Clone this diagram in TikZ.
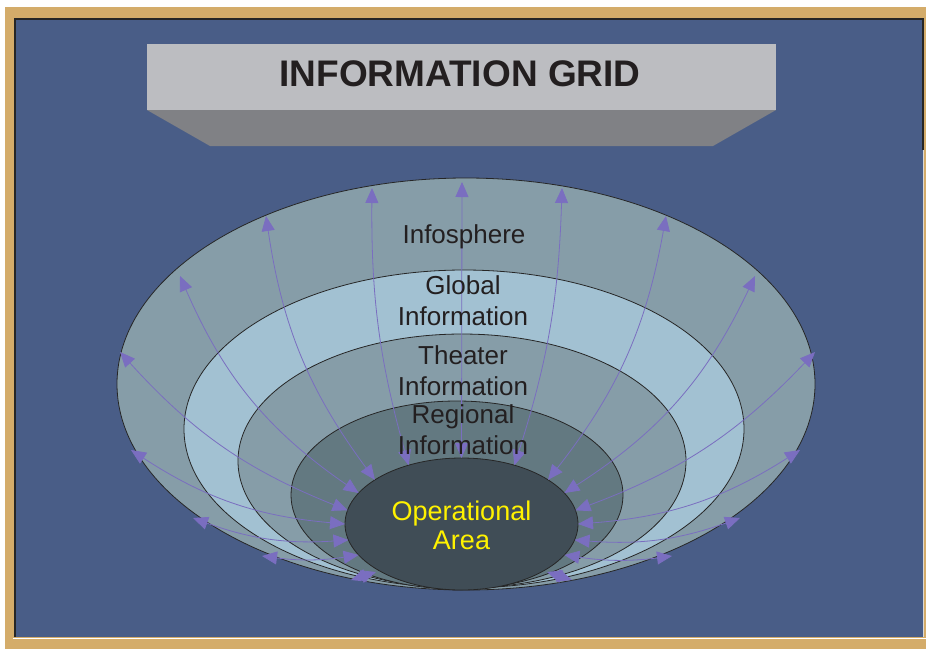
\documentclass[tikz,border=0pt]{standalone}
\usepackage{fontspec}
\setmainfont{Liberation Sans}
\usetikzlibrary{arrows.meta,calc}
\definecolor{slateblue}{RGB}{73,93,135}
\definecolor{frametan}{RGB}{212,172,106}
\definecolor{titlegray}{RGB}{188,189,193}
\definecolor{bevelgray}{RGB}{128,129,133}
\definecolor{ringgray}{RGB}{134,157,168}
\definecolor{ringlight}{RGB}{162,193,210}
\definecolor{ringdark}{RGB}{99,121,129}
\definecolor{opcore}{RGB}{64,77,86}
\definecolor{flowpurple}{RGB}{122,110,192}
\definecolor{inktext}{RGB}{35,31,32}
\definecolor{opyellow}{RGB}{255,242,0}
\tikzset{
  ring/.style={draw=black!85,line width=0.8pt},
  flow/.style={flowpurple,line width=0.8pt,
    {Triangle[length=15pt,width=13pt]}-{Triangle[length=15pt,width=13pt]}},
  layerlabel/.style={text=inktext,font=\fontsize{26}{30.7}\selectfont,align=center,inner sep=0pt},
}
\begin{document}
\begin{tikzpicture}[x=1pt,y=-1pt]
\useasboundingbox (0,0) rectangle (926,649);
\fill[white] (0,0) rectangle (926,649);
\fill[frametan] (5,7) rectangle (926,649);
\fill[slateblue] (15,19) rectangle (923,637);
\draw[black!85,line width=1.5pt] (15,637) -- (15,19) -- (923,19) -- (923,150);
\draw[gray!30,line width=1pt] (923,150) -- (923,637);
\draw[white,line width=1pt] (13,638.5) -- (926,638.5);

\fill[titlegray] (147,44) rectangle (776,110);
\fill[bevelgray] (147,110) -- (776,110) -- (713,146) -- (210,146) -- cycle;
\node[text=inktext,font=\fontsize{37}{40}\selectfont\bfseries] (title) at (460,74) {INFORMATION GRID};

\draw[ring,fill=ringgray] (466,384) ellipse [x radius=349, y radius=206];
\draw[ring,fill=ringlight] (464,429) ellipse [x radius=280, y radius=159];
\draw[ring,fill=ringgray] (462,461) ellipse [x radius=224, y radius=127];
\draw[ring,fill=ringdark] (457,495) ellipse [x radius=166, y radius=94];
\draw[ring,fill=opcore] (461.5,524) ellipse [x radius=116.5, y radius=66];

\coordinate (opc) at (461.5,524);
\foreach \n/\ang/\ox/\oy/\b in {1/222/266/216/14, 2/208/180/276/16, 3/192/120/352/13,
    4/180/131/450/14, 5/166/193/518/12, 6/152/262/556/8,
    7/243/372/188/8, 8/270/462/182/0, 9/297/562/188/-8,
    10/318/666/216/-14, 11/332/755/276/-16, 12/348/815/352/-13,
    13/360/800/450/-14, 14/374/740/518/-12, 15/388/672/556/-8}{
  \coordinate (in\n) at ($(opc)+(\ang:116.5 and 66)$);
  \coordinate (out\n) at (\ox,\oy);
  \draw[flow] (in\n) to[bend left=\b] (out\n);
}
\coordinate (in16) at (376,572);
\coordinate (out16) at (351,580);
\coordinate (in17) at (547,572);
\coordinate (out17) at (572,580);
\draw[flow] (in16) -- (out16);
\draw[flow] (in17) -- (out17);

\node[layerlabel] (infosphere) at (464,236.5) {Infosphere};
\node[layerlabel] (global) at (463,301) {Global\\Information};
\node[layerlabel] (theater) at (463,371) {Theater\\Information};
\node[layerlabel] (regional) at (463,429.5) {Regional\\Information};
\node[layerlabel,text=opyellow,font=\fontsize{27}{29}\selectfont] (operational) at (461.5,525.5) {Operational\\Area};
\end{tikzpicture}
\end{document}
